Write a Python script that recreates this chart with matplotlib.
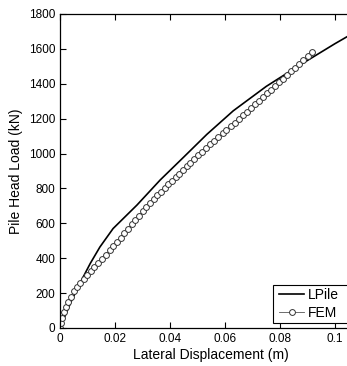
import matplotlib
matplotlib.use("Agg")
import matplotlib.pyplot as plt
from matplotlib.patches import Rectangle

plt.rcParams['font.family'] = ['Liberation Sans', 'DejaVu Sans']

# LPile curve (displacement m, load kN)
lpile_x = [0.0, 0.0040, 0.0073, 0.0110, 0.0145, 0.0193, 0.0280, 0.0364,
           0.0450, 0.0534, 0.0630, 0.0750, 0.0873, 0.1000, 0.1044, 0.1100]
lpile_y = [0, 150, 258, 370, 464, 570, 705, 848,
           980, 1110, 1245, 1385, 1508, 1630, 1670, 1720]

# FEM results
fem_x = [0.0, 0.0003, 0.0008, 0.0014, 0.0021, 0.0029, 0.0039, 0.0050, 0.0061, 0.0073,
         0.0086, 0.0099, 0.0112, 0.0125, 0.0138, 0.0152, 0.0166, 0.0180, 0.0194, 0.0207, 0.0220,
         0.0233, 0.0247, 0.0260, 0.0273, 0.0287, 0.0300, 0.0313, 0.0327, 0.0340, 0.0353,
         0.0367, 0.0380, 0.0393, 0.0407, 0.0420, 0.0433, 0.0447, 0.0460, 0.0473,
         0.0488, 0.0503, 0.0517, 0.0532, 0.0547, 0.0561, 0.0576, 0.0591, 0.0605, 0.0620,
         0.0635, 0.0650, 0.0664, 0.0679, 0.0694, 0.0708, 0.0723, 0.0738, 0.0752, 0.0767,
         0.0782, 0.0796, 0.0811, 0.0826, 0.0840, 0.0855, 0.0870, 0.0885, 0.0900, 0.0915]
fem_y = [0, 30, 60, 90, 120, 150, 180, 210, 235, 258,
         282, 306, 328, 350, 372, 395, 420, 445, 470, 494, 517,
         544, 570, 595, 620, 644, 668, 692, 716, 738, 760,
         781, 802, 823, 844, 865, 885, 906, 926, 946,
         967, 989, 1010, 1031, 1052, 1073, 1094, 1115, 1136, 1157,
         1178, 1199, 1220, 1241, 1262, 1283, 1304, 1325, 1346, 1367,
         1388, 1409, 1430, 1451, 1472, 1493, 1514, 1535, 1558, 1580]

xticks = [0, 0.02, 0.04, 0.06, 0.08, 0.1]
xticklabels = ['0', '0.02', '0.04', '0.06', '0.08', '0.1']
yticks = [0, 200, 400, 600, 800, 1000, 1200, 1400, 1600, 1800]

W, H = 347, 366
fig = plt.figure(figsize=(W / 100, H / 100), dpi=100)
left = 60 / W
bottom = (H - 328) / H
top = (H - 14) / H
width = 302.5 / W
ax = fig.add_axes([left, bottom, width, top - bottom])

ax.plot(lpile_x, lpile_y, '-', color='black', lw=1.2, label='LPile')
ax.plot(fem_x, fem_y, '-', color='#555555', lw=0.6, marker='o', markersize=4.2,
        markerfacecolor='white', markeredgecolor='#333333', markeredgewidth=0.7,
        label='FEM')

ax.set_xlim(0, 0.11)
ax.set_ylim(0, 1800)
ax.set_xticks(xticks)
ax.set_xticklabels(xticklabels)
ax.set_yticks(yticks)
ax.tick_params(direction='in', length=4, width=0.8, labelsize=8.5, top=True, right=True, pad=3.5)
for s in ax.spines.values():
    s.set_linewidth(0.9)

ax.set_xlabel('Lateral Displacement (m)', fontsize=10, labelpad=2)
ax.set_ylabel('Pile Head Load (kN)', fontsize=10, labelpad=4)

# legend frame extends past the right edge of the picture, as in the reference
frame = Rectangle((273 / W, (H - 323) / H), 90 / W, 38 / H, transform=fig.transFigure,
                  facecolor='white', edgecolor='black', linewidth=0.8, zorder=4)
fig.add_artist(frame)
leg = fig.legend(loc='lower left', bbox_to_anchor=(273 / W, (H - 326) / H),
                 fontsize=10, frameon=False,
                 handlelength=1.8, handletextpad=0.25, borderpad=0.45, labelspacing=0.25,
                 borderaxespad=0)
leg.set_zorder(5)

fig.savefig('out.png', dpi=100)
